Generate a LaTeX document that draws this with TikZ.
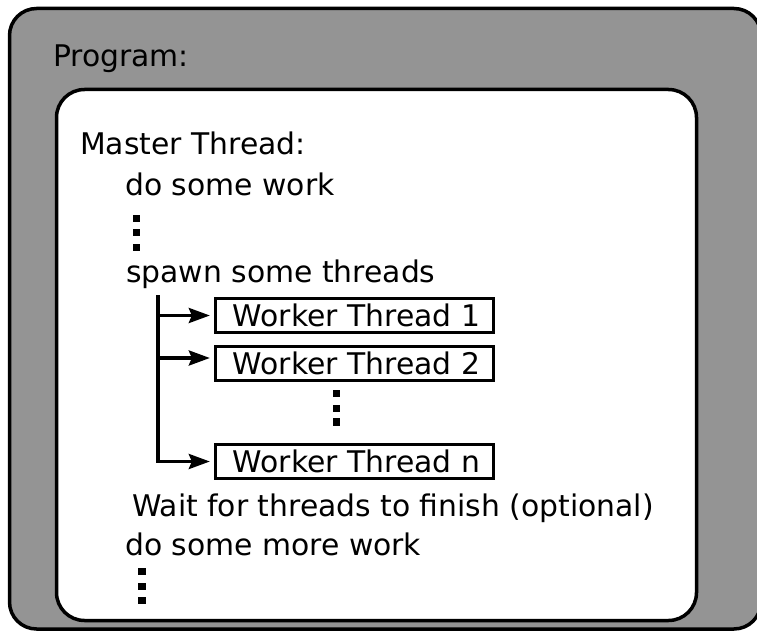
\documentclass[tikz,border=0pt]{standalone}
\usepackage{fontspec}
\setmainfont{DejaVu Sans}
\usetikzlibrary{arrows.meta}
\definecolor{progGray}{RGB}{148,148,148}
\begin{document}
\begin{tikzpicture}[x=1pt,y=-1pt,
  font=\fontsize{29.8pt}{36pt}\selectfont,
  txt/.style={anchor=base west, inner sep=0pt},
  wbox/.style={draw, line width=3.3pt, minimum width=278pt, minimum height=34pt,
    inner sep=0pt, text height=22pt, text depth=0pt},
  conn/.style={line width=3.3pt, -{Stealth[length=21pt,width=15pt,inset=3pt]}, shorten >=4pt},
  dotsq/.style={fill=black, minimum size=7.5pt, inner sep=0pt, draw=none}
]
\useasboundingbox (0,0) rectangle (757,631);
\begin{scope}
  \clip (0,0) rectangle (757,631);
  \draw[line width=3.5pt, fill=progGray, rounded corners=27pt] (9.5,8.5) rectangle (761,629);
\end{scope}
\draw[line width=3.5pt, fill=white, rounded corners=28pt] (56.5,89.5) rectangle (696.5,620.5);

\node[txt] (prog) at (53,67) {Program:};
\node[txt] (master) at (80,155) {Master Thread:};
\node[txt] (work1) at (125,196) {do some work};
\node[dotsq] (d1a) at (136.5,218.5) {};
\node[dotsq] (d1b) at (136.5,232.5) {};
\node[dotsq] (d1c) at (136.5,247.5) {};
\node[txt] (spawn) at (126,282) {spawn some threads};

\node[wbox] (w1) at (354.5,315.5) {\hspace*{4pt}Worker Thread 1};
\node[wbox] (w2) at (354.5,363.5) {\hspace*{4pt}Worker Thread 2};
\node[dotsq] (d2a) at (336.5,393.5) {};
\node[dotsq] (d2b) at (336.5,408.5) {};
\node[dotsq] (d2c) at (336.5,422) {};
\node[wbox] (wn) at (354.5,461.5) {\hspace*{4pt}Worker Thread n};

\coordinate (trunk) at (158,295);
\draw[conn] (trunk) |- (wn.west);
\draw[conn] (trunk |- w1.west) -- (w1.west);
\draw[conn] ([yshift=5.5pt]w2.west -| trunk) -- ([yshift=5.5pt]w2.west);

\node[txt] (wait) at (132,516) {Wait for threads to finish (optional)};
\node[txt] (more) at (125,555) {do some more work};
\node[dotsq] (d3a) at (142,571.5) {};
\node[dotsq] (d3b) at (142,586.5) {};
\node[dotsq] (d3c) at (142,600.5) {};
\end{tikzpicture}
\end{document}
